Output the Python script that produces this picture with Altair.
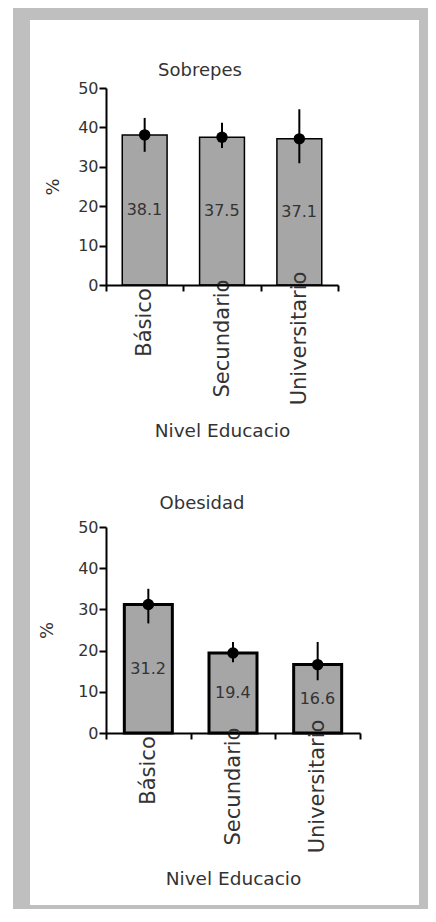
import altair as alt
import pandas as pd

# ---- data ----
categories = ["Básico", "Secundario", "Universitario"]

sobrepeso = [38.1, 37.5, 37.1]
sobrepeso_lo = [33.8, 34.8, 30.9]
sobrepeso_hi = [42.4, 41.2, 44.6]

obesidad = [31.2, 19.4, 16.6]
obesidad_lo = [26.6, 17.2, 12.8]
obesidad_hi = [35.0, 22.1, 22.1]

y_ticks = [0, 10, 20, 30, 40, 50]

FONT = "DejaVu Sans"
TEXT = "#333333"
GRAY_FRAME = "#bfbfbf"


def panel(title, values, lo, hi, width, height, ox, oy,
          frame_top, frame_bottom, white_top, white_bottom,
          bar_stroke, bar_band, title_dx, title_dy, ytitle_x):
    df = pd.DataFrame({
        "nivel": categories,
        "valor": values,
        "lo": lo,
        "hi": hi,
        "label": [f"{v:.1f}" for v in values],
    })
    base = alt.Chart(df)

    x_axis = alt.Axis(
        title="Nivel Educacio",
        labelAngle=270,
        labelAlign="center",
        labelBaseline="middle",
        labelPadding={"condition": {"test": "datum.value === 'Básico'", "value": 31}, "value": 47},
        labelFont=FONT, labelFontSize=21, labelColor=TEXT,
        labelOverlap=False, labelBound=False,
        tickBand="extent", tickSize=6, tickWidth=2, tickColor="black",
        domainColor="black", domainWidth=2,
        titleFont=FONT, titleFontSize=18.5, titleColor=TEXT, titleFontWeight="normal",
        titleY=145, titleBaseline="middle",
        zindex=1,
    )
    y_axis = alt.Axis(
        title="%",
        values=y_ticks,
        tickCount=6,
        grid=False,
        tickSize=7, tickWidth=2, tickColor="black",
        domainColor="black", domainWidth=2,
        labelFont=FONT, labelFontSize=16, labelColor=TEXT, labelPadding=1,
        labelFlush=False, labelOverlap=False,
        titleFont=FONT, titleFontSize=18, titleColor=TEXT, titleFontWeight="normal",
        titleX=ytitle_x, titleY=height / 2, titleAngle=270,
        titleAlign="center", titleBaseline="middle",
        zindex=1,
    )
    x_scale = alt.Scale(paddingInner=0, paddingOuter=0)
    y_scale = alt.Scale(domain=[0, 50], nice=False)

    def X():
        return alt.X("nivel:N", scale=x_scale, axis=x_axis)

    def Y(field):
        return alt.Y(field, scale=y_scale, axis=y_axis)

    one = alt.Chart(pd.DataFrame({"k": [0]}))
    gray = one.mark_rect(color=GRAY_FRAME).encode(
        x=alt.value(13 - ox), x2=alt.value(428 - ox),
        y=alt.value(frame_top - oy), y2=alt.value(frame_bottom - oy))
    white = one.mark_rect(color="white").encode(
        x=alt.value(30 - ox), x2=alt.value(419 - ox),
        y=alt.value(white_top - oy), y2=alt.value(white_bottom - oy))

    bars = base.mark_bar(color="#a6a6a6", stroke="black", strokeWidth=bar_stroke,
                         width=alt.RelativeBandSize(bar_band)).encode(x=X(), y=Y("valor:Q"))
    err = base.mark_rule(color="black", strokeWidth=2).encode(
        x=X(), y=Y("lo:Q"), y2="hi:Q")
    pts = base.mark_point(filled=True, color="black", size=130, opacity=1).encode(
        x=X(), y=Y("valor:Q"))
    txt = base.transform_calculate(mid="datum.valor / 2").mark_text(
        align="left", baseline="middle", dx=-18, font=FONT, fontSize=16, color=TEXT
    ).encode(x=X(), y=Y("mid:Q"), text="label:N")

    return alt.layer(gray, white, bars, err, pts, txt).properties(
        width=width, height=height,
        title=alt.TitleParams(text=title, anchor="middle", frame="group", offset=0,
                              dx=title_dx, dy=title_dy, font=FONT, fontSize=18,
                              fontWeight="normal", color=TEXT),
    )


top = panel("Sobrepes", sobrepeso, sobrepeso_lo, sobrepeso_hi,
            232, 197, 106, 88, 8, 470, 20, 470, 1.5, 0.58, -22, 72, -53)
bottom = panel("Obesidad", obesidad, obesidad_lo, obesidad_hi,
               254, 206, 106, 527, 470, 909, 470, 905, 3, 0.567, -31, 43, -59)

chart = alt.vconcat(top, bottom, spacing=0).properties(
    padding={"left": 5, "top": 0, "right": 0, "bottom": 0},
    background="white",
).configure_view(strokeWidth=0)

chart.save("out.html", embed_options={"renderer": "svg", "actions": False})
